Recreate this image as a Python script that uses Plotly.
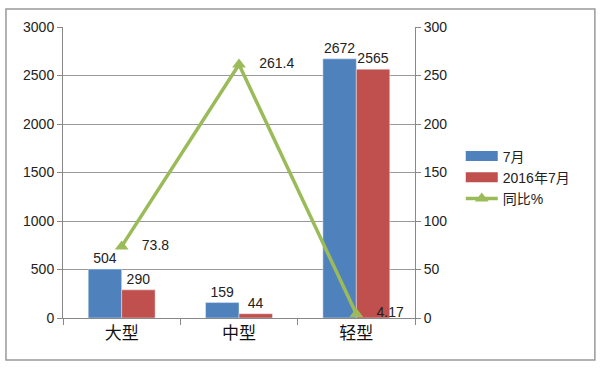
import plotly.graph_objects as go

categories = ["大型", "中型", "轻型"]
july = [504, 159, 2672]
july_2016 = [290, 44, 2565]
yoy = [73.8, 261.4, 4.17]
yoy_labels = ["   73.8", "   261.4", "   4.17"]

font_family = "Liberation Sans, DejaVu Sans, Noto Sans CJK SC"
blue = "#4F81BD"
red = "#C0504D"
green = "#9BBB59"

fig = go.Figure()
fig.add_trace(go.Bar(x=categories, y=july, name="7月", marker_color=blue, showlegend=False,
                     text=[str(v) for v in july], textposition="outside",
                     textfont=dict(size=14, color="#222"), cliponaxis=False))
fig.add_trace(go.Bar(x=categories, y=july_2016, name="2016年7月", marker_color=red, showlegend=False,
                     text=[str(v) for v in july_2016], textposition="outside",
                     textfont=dict(size=14, color="#222"), cliponaxis=False))
fig.add_trace(go.Scatter(x=categories, y=yoy, name="同比%", yaxis="y2", showlegend=False,
                         mode="lines+markers+text", line=dict(color=green, width=3.5),
                         marker=dict(symbol="triangle-up", size=12, color=green),
                         text=yoy_labels, textposition="middle right",
                         textfont=dict(size=14, color="#222"), cliponaxis=False))
# legend entries (wide swatches like the reference)
fig.add_trace(go.Scatter(x=[None], y=[None], name="7月", mode="lines",
                         line=dict(color=blue, width=10)))
fig.add_trace(go.Scatter(x=[None], y=[None], name="2016年7月", mode="lines",
                         line=dict(color=red, width=10)))
fig.add_trace(go.Scatter(x=[None], y=[None], name="同比%", mode="lines+markers",
                         line=dict(color=green, width=3.5),
                         marker=dict(symbol="triangle-up", size=12, color=green)))

fig.update_layout(
    width=600, height=373,
    margin=dict(l=63, r=185, t=27, b=55, autoexpand=False),
    paper_bgcolor="white", plot_bgcolor="white",
    font=dict(family=font_family, size=14, color="#222"),
    barmode="group", bargap=0.43, bargroupgap=0,
    showlegend=True,
    legend=dict(x=1.13, y=0.61, xanchor="left", yanchor="top", itemwidth=32,
                font=dict(size=14), bgcolor="rgba(0,0,0,0)", tracegroupgap=0),
    xaxis=dict(showline=True, linecolor="#888", linewidth=1, ticks="outside",
               tickson="boundaries", ticklen=6, tickcolor="#888", automargin=False,
               tickfont=dict(size=17, color="#111")),
    yaxis=dict(range=[0, 3000], dtick=500, showgrid=True, gridcolor="#999", gridwidth=1,
               showline=True, linecolor="#888", ticks="outside", ticklen=5, tickcolor="#888",
               zeroline=False, automargin=False, tickfont=dict(size=14)),
    yaxis2=dict(range=[0, 300], dtick=50, overlaying="y", side="right", showgrid=False,
                showline=True, linecolor="#888", ticks="outside", ticklen=5, tickcolor="#888",
                zeroline=False, automargin=False, tickfont=dict(size=14)),
    shapes=[dict(type="rect", xref="paper", yref="paper", x0=-0.162, x1=1.511, y0=-0.144, y1=1.062,
                 line=dict(color="#999", width=1.5))],
)

fig.write_html("out.html", config={"displayModeBar": False},
               post_script="document.body.style.margin='0';")
